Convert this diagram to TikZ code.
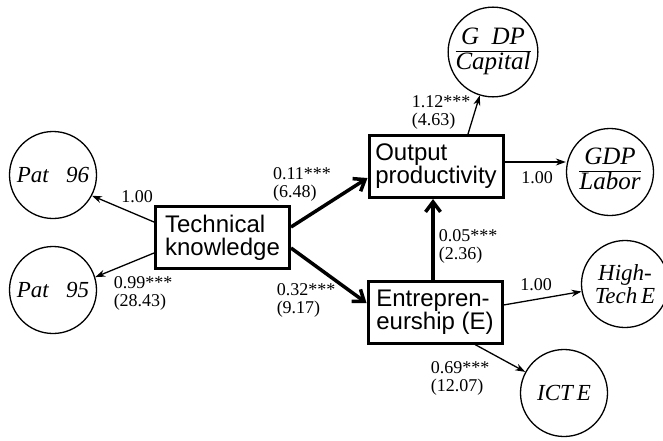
\documentclass[tikz,border=0pt]{standalone}
\usepackage{fontspec}
\setmainfont{Liberation Serif}
\newfontfamily\boxfont{Liberation Sans}
\usetikzlibrary{arrows.meta}

\tikzset{
  latent/.style={draw, line width=3pt, font=\boxfont\fontsize{24}{23}\selectfont,
    align=left, inner xsep=6pt, minimum width=134pt, minimum height=62pt},
  indic/.style={draw, circle, line width=1.3pt, minimum size=87pt, inner sep=0pt,
    font=\fontsize{23}{23}\selectfont\itshape, align=center},
  ratio/.style={indic, font=\fontsize{25}{24}\selectfont\itshape},
  loadarrow/.style={line width=1.3pt, -{Stealth[length=10pt,width=7pt]}},
  patharrow/.style={line width=3.5pt, -{Straight Barb[length=10pt,width=15pt]}},
  coef/.style={font=\fontsize{18}{18}\selectfont, align=left, inner sep=0pt}
}
\setlength{\arrayrulewidth}{1pt}

\begin{document}
\begin{tikzpicture}[x=1pt,y=-1pt]
\useasboundingbox (0,0) rectangle (663,440);

\node[latent] (tk) at (222.5,237.5) {Technical\\knowledge};
\node[latent] (out) at (436,166.5) {Output\\productivity};
\node[latent] (ent) at (435,312) {Entrepren-\\eurship (E)};

\node[indic] (p96) at (53,175) {Pat\hspace{0.75em}96};
\node[indic] (p95) at (53,290) {Pat\hspace{0.75em}95};
\node[ratio] (cap) at (493,52) {\begin{tabular}{@{}c@{}}G\hspace{0.5em}DP\\\hline Capital\end{tabular}};
\node[ratio] (lab) at (610,172) {\begin{tabular}{@{}c@{}}GDP\\\hline Labor\end{tabular}};
\node[indic] (ht) at (625,284) {High-\\Tech\,E};
\node[indic] (ict) at (564,393) {ICT\,E};

\draw[loadarrow] ([yshift=15.5pt]tk.west) -- (p96.-28);
\draw[loadarrow] ([yshift=-15.5pt]tk.west) -- (p95.17);
\draw[patharrow] ([yshift=10.5pt]tk.east) -- ([yshift=-11.5pt]out.west);
\draw[patharrow] ([yshift=-10.5pt]tk.east) -- ([yshift=9pt]ent.west);
\draw[patharrow] ([xshift=-2pt]ent.north) -- ([xshift=-2pt]ent.north |- out.south);
\draw[loadarrow] ([xshift=32pt]out.north) -- (cap);
\draw[loadarrow] ([yshift=4.5pt]out.east) -- ([yshift=4.5pt]out.east -| lab.west);
\draw[loadarrow] ([yshift=7pt]ent.east) -- (ht);
\draw[loadarrow] ([xshift=40pt]ent.south) -- (ict);

\node[coef] (c96) at (137,197) {1.00};
\node[coef] (c95) at (143,293) {0.99***\\(28.43)};
\node[coef] (cto) at (302,184) {0.11***\\(6.48)};
\node[coef] (cte) at (306,300) {0.32***\\(9.17)};
\node[coef] (ceo) at (468,246) {0.05***\\(2.36)};
\node[coef] (ccap) at (441,112) {1.12***\\(4.63)};
\node[coef] (clab) at (537,178) {1.00};
\node[coef] (cht) at (536,285) {1.00};
\node[coef] (cict) at (460,378) {0.69***\\(12.07)};
\end{tikzpicture}
\end{document}
